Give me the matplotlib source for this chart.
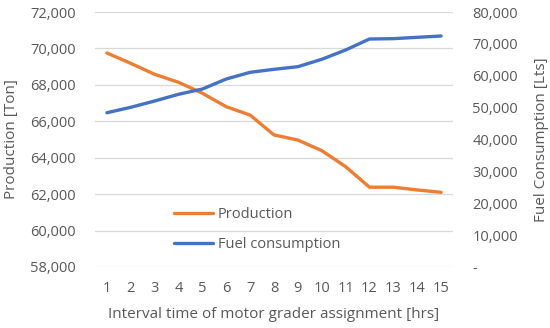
# libraries
import matplotlib.pyplot as plt
from matplotlib.ticker import FuncFormatter

plt.rcParams['font.family'] = ['Open Sans', 'DejaVu Sans']

# data
hours = list(range(1, 16))
production = [69750, 69180, 68580, 68140, 67540, 66800, 66340, 65250,
              64970, 64390, 63510, 62380, 62380, 62230, 62100]
fuel = [48400, 50100, 52080, 54180, 55840, 58980, 61080, 62020,
        62840, 65160, 68080, 71530, 71640, 72060, 72470]

orange = '#ED7D31'
blue = '#4472C4'
grey = '#595959'

fig = plt.figure(figsize=(5.5, 3.28), dpi=100)
ax = fig.add_axes([0.1727, 0.186, 0.651, 0.7774])
ax2 = ax.twinx()

l1, = ax.plot(hours, production, color=orange, lw=2.4, solid_capstyle='round', label='Production', zorder=3)
l2, = ax2.plot(hours, fuel, color=blue, lw=2.4, solid_capstyle='round', label='Fuel consumption', zorder=3)

ax.set_xlim(0.5, 15.5)
ax.set_ylim(58000, 72000)
ax.set_yticks(range(58000, 72001, 2000))
ax2.set_ylim(0, 80000)
ax2.set_yticks(range(0, 80001, 10000))
ax.set_xticks(hours)

ax.yaxis.set_major_formatter(FuncFormatter(lambda v, p: f'{int(v):,}'))
ax2.yaxis.set_major_formatter(FuncFormatter(lambda v, p: '-' if v == 0 else f'{int(v):,}'))

ax.grid(axis='y', color='#D9D9D9', lw=0.9)
ax.set_axisbelow(True)
for a in (ax, ax2):
    for s in a.spines.values():
        s.set_visible(False)
    a.tick_params(length=0, labelsize=10.5, labelcolor=grey)
ax.tick_params(axis='y', pad=14)
ax.tick_params(axis='x', pad=10)
ax2.tick_params(axis='y', pad=14)

ax.set_ylabel('Production [Ton]', fontsize=11, color=grey, labelpad=8)
ax2.set_ylabel('Fuel Consumption [Lts]', fontsize=11, color=grey, labelpad=11)
ax.set_xlabel('Interval time of motor grader assignment [hrs]', fontsize=11, color=grey, labelpad=8)

leg = ax.legend(handles=[l1, l2], loc='upper left', bbox_to_anchor=(0.2, 0.265),
                frameon=False, fontsize=10.5, handlelength=2.7, handletextpad=0.3,
                labelspacing=1.05, borderpad=0)
for t in leg.get_texts():
    t.set_color(grey)

plt.savefig('out.png', dpi=100)
